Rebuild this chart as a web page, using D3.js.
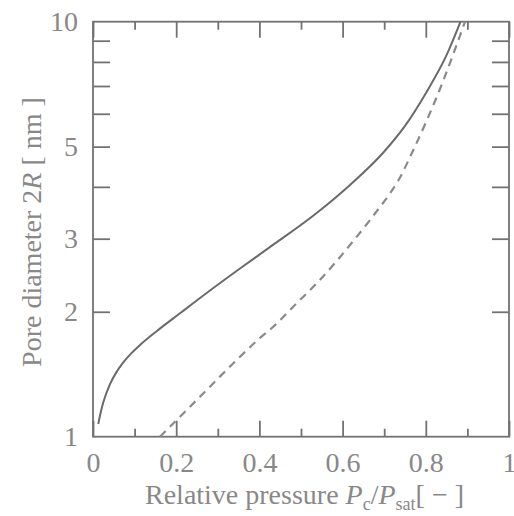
<!DOCTYPE html>
<html>
<head>
<meta charset="utf-8">
<script src="https://cdn.jsdelivr.net/npm/d3@7"></script>
<style>
  html, body { margin: 0; padding: 0; background: #fff; }
  svg { display: block; }
</style>
</head>
<body>
<svg id="chart" width="514" height="516"></svg>
<script>
// Relative pressure (Pc/Psat) vs pore diameter 2R in nm
const solidP = [0.0127, 0.0185, 0.0248, 0.0409, 0.0553, 0.0728, 0.0913, 0.113, 0.1531, 0.2091, 0.2812, 0.3534, 0.4175, 0.5377, 0.6178, 0.698, 0.75, 0.8022, 0.8502, 0.8834];
const solidR = [1.073, 1.144, 1.211, 1.339, 1.425, 1.510, 1.586, 1.663, 1.796, 1.983, 2.250, 2.542, 2.827, 3.459, 4.042, 4.84, 5.609, 6.782, 8.315, 10.0];

const dashedP = [0.161, 0.2332, 0.2892, 0.3454, 0.4014, 0.4334, 0.4897, 0.5377, 0.5858, 0.6257, 0.6659, 0.6820, 0.7139, 0.7332, 0.7700, 0.8022, 0.8341, 0.8661, 0.8942];
const dashedR = [1.0, 1.181, 1.345, 1.531, 1.729, 1.841, 2.097, 2.342, 2.651, 2.962, 3.328, 3.493, 3.855, 4.132, 4.908, 5.780, 6.884, 8.359, 10.0];

const xMajorTicks = [0, 0.2, 0.4, 0.6, 0.8, 1];
const xMinorTicks = [0.1, 0.3, 0.5, 0.7, 0.9];
const yTickLabels = [1, 2, 3, 5, 10];
const yTicks = [2, 3, 4, 5, 6, 7, 8, 9];

const plotLeft = 93, plotRight = 509, plotTop = 21.7, plotBottom = 436.7;
const axisColor = "#727272";
const lineColor = "#6a6a6a";
const textColor = "#888888";
const serif = "'Liberation Serif', 'Times New Roman', 'DejaVu Serif', serif";

const svg = d3.select("#chart");

const x = d3.scaleLinear().domain([0, 1]).range([plotLeft, plotRight]);
const y = d3.scaleLog().domain([1, 10]).range([plotBottom, plotTop]);

function styleTicks(g) {
  g.select(".domain").remove();
  g.selectAll(".tick line").attr("stroke", axisColor).attr("stroke-width", 1.8);
  g.selectAll(".tick text").remove();
}

function styleLabels(g) {
  g.attr("font-family", serif).attr("font-size", 28);
  g.select(".domain").remove();
  g.selectAll(".tick text").attr("fill", textColor);
}

// inward tick marks on all four sides
svg.append("g").attr("transform", `translate(0,${plotBottom})`)
  .call(d3.axisBottom(x).tickValues(xMajorTicks).tickSize(-16)).call(styleTicks);
svg.append("g").attr("transform", `translate(0,${plotBottom})`)
  .call(d3.axisBottom(x).tickValues(xMinorTicks).tickSize(-8)).call(styleTicks);
svg.append("g").attr("transform", `translate(0,${plotTop})`)
  .call(d3.axisTop(x).tickValues(xMajorTicks).tickSize(-16)).call(styleTicks);
svg.append("g").attr("transform", `translate(0,${plotTop})`)
  .call(d3.axisTop(x).tickValues(xMinorTicks).tickSize(-8)).call(styleTicks);
svg.append("g").attr("transform", `translate(${plotLeft},0)`)
  .call(d3.axisLeft(y).tickValues(yTicks).tickSize(-17)).call(styleTicks);
svg.append("g").attr("transform", `translate(${plotRight},0)`)
  .call(d3.axisRight(y).tickValues(yTicks).tickSize(-17)).call(styleTicks);

// tick labels
svg.append("g").attr("transform", `translate(0,${plotBottom})`)
  .call(d3.axisBottom(x).tickValues(xMajorTicks).tickSize(0).tickPadding(15.4)
    .tickFormat(d => d === 0 || d === 1 ? String(d) : d3.format(".1f")(d)))
  .call(styleLabels);

svg.append("g").attr("transform", `translate(${plotLeft},0)`)
  .call(d3.axisLeft(y).tickValues(yTickLabels).tickSize(0).tickPadding(15)
    .tickFormat(d3.format("d")))
  .call(styleLabels);

// frame
svg.append("rect")
  .attr("x", plotLeft).attr("y", plotTop)
  .attr("width", plotRight - plotLeft).attr("height", plotBottom - plotTop)
  .attr("fill", "none").attr("stroke", axisColor).attr("stroke-width", 1.8);

// curves
const line = d3.line()
  .x(d => x(d[0]))
  .y(d => y(d[1]))
  .curve(d3.curveMonotoneX);

svg.append("path")
  .datum(d3.zip(solidP, solidR))
  .attr("d", line)
  .attr("fill", "none").attr("stroke", lineColor).attr("stroke-width", 2);

svg.append("path")
  .datum(d3.zip(dashedP, dashedR))
  .attr("d", line)
  .attr("fill", "none").attr("stroke", "#8a8a8a").attr("stroke-width", 2.2)
  .attr("stroke-dasharray", "8,6");

// axis titles
const xt = svg.append("text")
  .attr("x", 145).attr("y", 504)
  .attr("font-family", serif).attr("font-size", 28).attr("fill", textColor);
xt.append("tspan").text("Relative pressure ");
xt.append("tspan").attr("font-style", "italic").text("P");
xt.append("tspan").attr("font-size", 18).attr("dy", 6).text("c");
xt.append("tspan").attr("dy", -6).text("/");
xt.append("tspan").attr("font-style", "italic").text("P");
xt.append("tspan").attr("font-size", 18).attr("dy", 6).text("sat");
xt.append("tspan").attr("dy", -6).text("[ \u2212 ]");

const yt = svg.append("text")
  .attr("transform", "translate(41,232) rotate(-90)")
  .attr("text-anchor", "middle")
  .attr("font-family", serif).attr("font-size", 28).attr("fill", textColor);
yt.append("tspan").text("Pore diameter 2");
yt.append("tspan").attr("font-style", "italic").text("R");
yt.append("tspan").text(" [ nm ]");
</script>
</body>
</html>
